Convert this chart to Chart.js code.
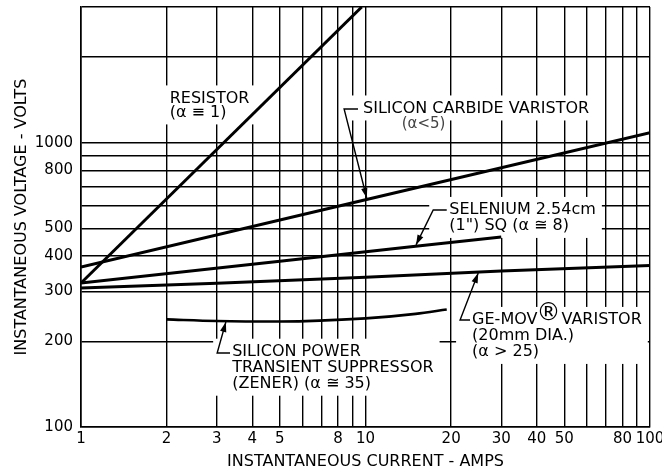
<!DOCTYPE html>
<html>
<head>
<meta charset="utf-8">
<script src="https://cdn.jsdelivr.net/npm/chart.js@4.4.0/dist/chart.umd.min.js"></script>
<style>
  html, body { margin: 0; padding: 0; background: #fff; }
  #wrap { width: 662px; height: 470px; }
</style>
</head>
<body>
<div id="wrap"><canvas id="chart" width="662" height="470"></canvas></div>
<script>
// values: current in amps, voltage in volts (log-log)
const resistorAmps = [1, 9.7];
const resistorVolts = [321, 3000];
const sicAmps = [1, 10, 100];
const sicVolts = [365, 630, 1085];
const seleniumAmps = [1, 5, 15, 30];
const seleniumVolts = [321, 383, 432, 466];
const movAmps = [1, 3, 10, 30, 100];
const movVolts = [308, 320, 336, 354, 370];
const zenerAmps = [2, 3, 5, 10, 15, 19.3];
const zenerVolts = [239, 236, 235, 241, 250, 259];

// every grid line, and the ones that carry a number
const xTicks = [1, 2, 3, 4, 5, 6, 7, 8, 9, 10, 20, 30, 40, 50, 60, 70, 80, 90, 100];
const xLabels = [1, 2, 3, 4, 5, 8, 10, 20, 30, 40, 50, 80, 100];
const yTicks = [100, 200, 300, 400, 500, 600, 700, 800, 900, 1000, 2000, 3000];
const yLabels = [100, 200, 300, 400, 500, 800, 1000];

// callouts, anchored in data units (amps, volts)
const notes = [
  { lines: ["RESISTOR", "(α ≡ 1)"], at: [2.05, 1431], gap: 14 },
  { lines: ["SILICON CARBIDE VARISTOR"], at: [9.8, 1319], gap: 16,
    leader: [[9.41, 1314], [8.41, 1314], [10.1, 639]] },
  { lines: ["(α<5)"], at: [13.4, 1163], gap: 16, size: 15, color: "#444", noBox: true },
  { lines: ["SELENIUM 2.54cm", "(1\") SQ (α ≅ 8)"], at: [19.7, 580], gap: 16,
    leader: [[19.3, 580], [17.3, 580], [15.05, 437]] },
  { lines: ["GE-MOV®VARISTOR", "(20mm DIA.)", "(α > 25)"], at: [23.7, 238], gap: 16,
    leader: [[23.3, 238], [21.5, 238], [24.9, 348]] },
  { lines: ["SILICON POWER", "TRANSIENT SUPPRESSOR", "(ZENER) (α ≅ 35)"], at: [3.4, 184], gap: 16,
    leader: [[3.34, 182], [3.01, 182], [3.23, 234]] }
];

const FONT = "'DejaVu Sans', 'Liberation Sans', sans-serif";

const pts = (xs, ys) => xs.map((x, i) => ({ x: x, y: ys[i] }));
function curve(label, xs, ys, extra) {
  return Object.assign({
    label: label,
    data: pts(xs, ys),
    borderColor: "#000",
    borderWidth: 3,
    pointRadius: 0,
    fill: false,
    tension: 0
  }, extra || {});
}

// draws one text line, with a bigger raised ® when there is one
function drawLine(ctx, text, x, y, size) {
  const parts = text.split("®");
  if (parts.length === 1) { ctx.fillText(text, x, y); return; }
  ctx.fillText(parts[0], x, y);
  let cx = x + ctx.measureText(parts[0]).width - 1;
  const old = ctx.font;
  ctx.font = (size + 8) + "px " + FONT;
  ctx.fillText("®", cx, y - 6);
  cx += ctx.measureText("®").width + 1;
  ctx.font = old;
  ctx.fillText(parts[1], cx, y);
}

function lineWidth(ctx, text, size) {
  const parts = text.split("®");
  if (parts.length === 1) return ctx.measureText(text).width;
  let w = ctx.measureText(parts[0]).width + ctx.measureText(parts[1]).width;
  const old = ctx.font;
  ctx.font = (size + 8) + "px " + FONT;
  w += ctx.measureText("®").width;
  ctx.font = old;
  return w;
}

const notesPlugin = {
  id: "notes",
  // white boxes wipe the grid under the lettering, curves go on top
  beforeDatasetsDraw(chart) {
    const ctx = chart.ctx, xs = chart.scales.x, ys = chart.scales.y;
    ctx.save();
    ctx.fillStyle = "#fff";
    notes.forEach(n => {
      if (n.noBox) return;
      const size = n.size || 16;
      ctx.font = size + "px " + FONT;
      const x0 = xs.getPixelForValue(n.at[0]);
      const y0 = ys.getPixelForValue(n.at[1]);
      let w = 0;
      n.lines.forEach(t => { w = Math.max(w, lineWidth(ctx, t, size)); });
      let left = x0 - 5;
      if (n.leader) left = Math.min(left, xs.getPixelForValue(n.leader[1][0]) - 4);
      const top = y0 - 13;
      const bottom = y0 + (n.lines.length - 1) * n.gap + 12;
      ctx.fillRect(left, top, x0 + w + 6 - left, bottom - top);
    });
    ctx.restore();
  },
  afterDatasetsDraw(chart) {
    const ctx = chart.ctx, xs = chart.scales.x, ys = chart.scales.y;
    ctx.save();
    notes.forEach(n => {
      const size = n.size || 16;
      ctx.font = size + "px " + FONT;
      ctx.fillStyle = n.color || "#000";
      ctx.textBaseline = "middle";
      ctx.textAlign = "left";
      const x0 = xs.getPixelForValue(n.at[0]);
      const y0 = ys.getPixelForValue(n.at[1]);
      n.lines.forEach((t, i) => drawLine(ctx, t, x0, y0 + i * n.gap, size));
      if (n.leader) {
        const p = n.leader.map(q => [xs.getPixelForValue(q[0]), ys.getPixelForValue(q[1])]);
        ctx.strokeStyle = "#000";
        ctx.lineWidth = 1.4;
        ctx.beginPath();
        ctx.moveTo(p[0][0], p[0][1]);
        for (let i = 1; i < p.length; i++) ctx.lineTo(p[i][0], p[i][1]);
        ctx.stroke();
        // arrow head at the last point
        const a = p[p.length - 2], b = p[p.length - 1];
        const ang = Math.atan2(b[1] - a[1], b[0] - a[0]);
        const len = 10, half = 3.2;
        ctx.fillStyle = "#000";
        ctx.beginPath();
        ctx.moveTo(b[0], b[1]);
        ctx.lineTo(b[0] - len * Math.cos(ang) + half * Math.sin(ang), b[1] - len * Math.sin(ang) - half * Math.cos(ang));
        ctx.lineTo(b[0] - len * Math.cos(ang) - half * Math.sin(ang), b[1] - len * Math.sin(ang) + half * Math.cos(ang));
        ctx.closePath();
        ctx.fill();
      }
    });
    ctx.restore();
  }
};

new Chart(document.getElementById("chart"), {
  type: "line",
  data: {
    datasets: [
      curve("Resistor", resistorAmps, resistorVolts),
      curve("Silicon carbide varistor", sicAmps, sicVolts),
      curve("Selenium", seleniumAmps, seleniumVolts),
      curve("GE-MOV varistor", movAmps, movVolts),
      curve("Silicon power transient suppressor", zenerAmps, zenerVolts, { cubicInterpolationMode: "monotone", borderWidth: 2.6 })
    ]
  },
  options: {
    responsive: false,
    animation: false,
    layout: { padding: 0 },
    plugins: { legend: { display: false }, tooltip: { enabled: false } },
    scales: {
      x: {
        type: "logarithmic",
        min: 1,
        max: 100,
        afterBuildTicks: s => { s.ticks = xTicks.map(v => ({ value: v })); },
        afterFit: s => { s.height = 43; s.paddingLeft = 0; s.paddingRight = 12; },
        ticks: {
          autoSkip: false, maxRotation: 0, padding: 3, color: "#000",
          font: { family: FONT, size: 15 },
          callback: v => xLabels.includes(v) ? String(v) : ""
        },
        grid: { color: "#000", lineWidth: 1.4, drawTicks: false },
        border: { color: "#000", width: 1.6 },
        title: {
          display: true, text: "INSTANTANEOUS CURRENT - AMPS", color: "#000",
          font: { family: FONT, size: 16, lineHeight: 1 }, padding: 0
        }
      },
      y: {
        type: "logarithmic",
        min: 100,
        max: 3000,
        afterBuildTicks: s => { s.ticks = yTicks.map(v => ({ value: v })); },
        afterFit: s => { s.width = 81; s.paddingTop = 7; s.paddingBottom = 0; },
        ticks: {
          autoSkip: false, padding: 8, color: "#000",
          font: { family: FONT, size: 15 },
          callback: v => yLabels.includes(v) ? String(v) : ""
        },
        grid: { color: "#000", lineWidth: 1.4, drawTicks: false },
        border: { color: "#000", width: 1.6 },
        title: {
          display: true, text: "INSTANTANEOUS VOLTAGE - VOLTS", color: "#000",
          font: { family: FONT, size: 16, lineHeight: 1 }, padding: { top: 14, bottom: 0 }
        }
      }
    }
  },
  plugins: [notesPlugin]
});
</script>
</body>
</html>
